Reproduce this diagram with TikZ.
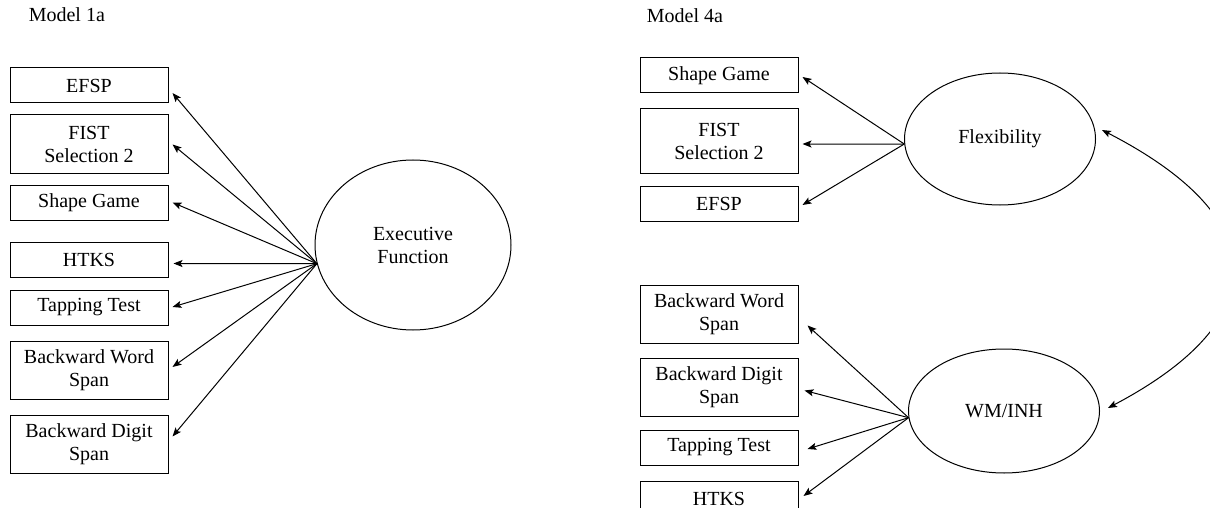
\documentclass[tikz,border=0pt]{standalone}
\usepackage{fontspec}
\setmainfont{Liberation Serif}
\usepackage{tikz}
\usetikzlibrary{arrows.meta, positioning, shapes.geometric}

\begin{document}
\begin{tikzpicture}[x=1pt, y=-1pt, >={Stealth[length=9pt, width=7pt, inset=2pt]}, line width=1pt,
    font=\fontsize{20}{23}\selectfont,
    box/.style={draw, rectangle, align=center, inner sep=0pt, minimum width=158pt, minimum height=35pt},
    tall/.style={box, minimum height=58pt},
    latent/.style={draw, ellipse, align=center, inner sep=0pt}]
        \useasboundingbox (0,0) rectangle (1210,508);
        % Model 1a
        \node[anchor=base west] (m1) at (25,22) {Model 1a};
        \node[box] (efsp1) at (89,85.5) {EFSP};
        \node[tall, below=11pt of efsp1] (fist1) {FIST\\Selection 2};
        \node[box, below=11pt of fist1] (shape1) {Shape Game};
        \node[box, below=21pt of shape1] (htks1) {HTKS};
        \node[box, below=12pt of htks1] (tap1) {Tapping Test};
        \node[tall, below=15pt of tap1] (bws1) {Backward Word\\Span};
        \node[tall, below=15pt of bws1] (bds1) {Backward Digit\\Span};
        \node[latent, minimum width=196pt, minimum height=170pt] (ef) at (413,245) {Executive\\Function};
        \draw[->] (ef.191) -- ([shift={(4,7.5)}]efsp1.east);
        \draw[->] (ef.191) -- ([shift={(4,0.5)}]fist1.east);
        \draw[->] (ef.191) -- ([shift={(4,0)}]shape1.east);
        \draw[->] (ef.191) -- ([shift={(5,4)}]htks1.east);
        \draw[->] (ef.191) -- ([shift={(4,-0.5)}]tap1.east);
        \draw[->] (ef.191) -- ([shift={(4,-3)}]bws1.east);
        \draw[->] (ef.191) -- ([shift={(4,-7.5)}]bds1.east);
        % Model 4a
        \node[anchor=base west] (m4) at (643,23) {Model 4a};
        \node[box] (shape4) at (719,75.5) {Shape Game};
        \node[tall, minimum height=64pt, below=15pt of shape4] (fist4) {FIST\\Selection 2};
        \node[box, below=12pt of fist4] (efsp4) {EFSP};
        \node[tall, below=63pt of efsp4] (bws4) {Backward Word\\Span};
        \node[tall, below=14pt of bws4] (bds4) {Backward Digit\\Span};
        \node[box, below=13pt of bds4] (tap4) {Tapping Test};
        \node[box, below=15pt of tap4] (htks4) {HTKS};
        \node[latent, minimum width=191pt, minimum height=132pt] (flex) at (1000,139) {Flexibility};
        \node[latent, minimum width=191pt, minimum height=124pt] (wm) at (1004,411) {WM/INH};
        \draw[->] (flex.183) -- ([shift={(4,1.5)}]shape4.east);
        \draw[->] (flex.183) -- ([shift={(4,3)}]fist4.east);
        \draw[->] (flex.183) -- ([shift={(4,1.5)}]efsp4.east);
        \draw[->] (wm.184) -- ([shift={(9,11.5)}]bws4.east);
        \draw[->] (wm.184) -- ([shift={(6,3.5)}]bds4.east);
        \draw[->] (wm.184) -- ([shift={(9,1.5)}]tap4.east);
        \draw[->] (wm.184) -- ([shift={(5,-2.5)}]htks4.east);
        \draw[<->] ([shift={(6,-9)}]flex.east) .. controls +(173,89) and +(167,-88) .. ([shift={(8,-3)}]wm.east);
      \end{tikzpicture}
\end{document}
